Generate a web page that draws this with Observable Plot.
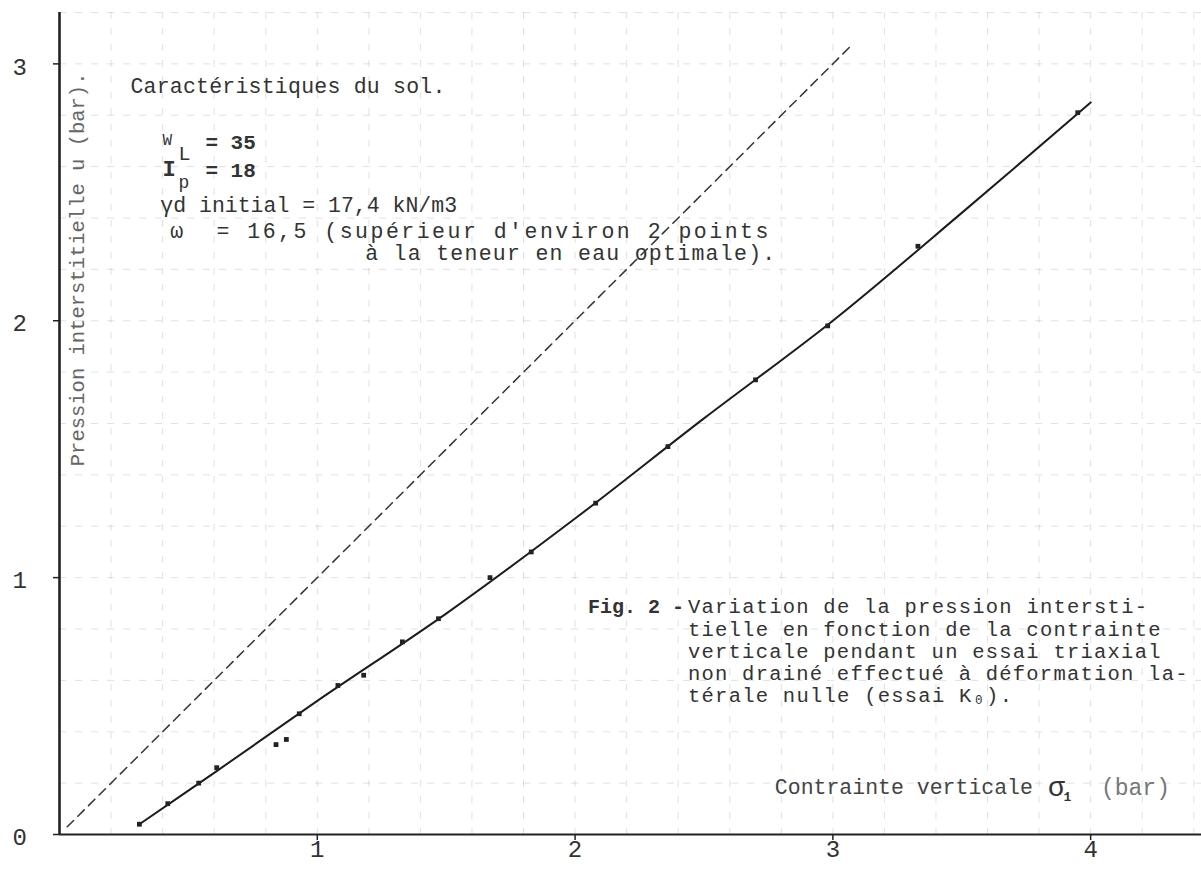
<!DOCTYPE html>
<html><head><meta charset="utf-8">
<script src="https://cdn.jsdelivr.net/npm/d3@7"></script>
<script src="https://cdn.jsdelivr.net/npm/@observablehq/plot@0.6"></script>
<style>
html,body{margin:0;padding:0;background:#fff}
svg{display:block}
</style>
</head><body><div id="chart"></div>
<script>
// Measured points: vertical stress σ1 (bar) vs pore pressure u (bar)
const sigma1 = [0.31,0.42,0.54,0.61,0.84,0.88,0.93,1.08,1.18,1.33,1.47,1.67,1.83,2.08,2.36,2.70,2.98,3.33,3.95];
const porePressure = [0.04,0.12,0.20,0.26,0.35,0.37,0.47,0.58,0.62,0.75,0.84,1.00,1.10,1.29,1.51,1.77,1.98,2.29,2.81];
// Drawn fitted curve (hand-drawn through the points)
const curveSigma = [0.31,0.60,1.00,1.50,2.00,2.50,3.00,3.50,4.00];
const curveU = [0.04,0.24,0.52,0.86,1.23,1.62,2.00,2.42,2.85];
// Dashed reference line u = σ1
const refSigma = [0.03,3.08];
const refU = [0.03,3.08];
// Ticks and graph-paper grid
const xTicks = [1,2,3,4];
const yTicks = [0,1,2,3];
const xGrid = [0.2,0.4,0.6,0.8,1.0,1.2,1.4,1.6,1.8,2.0,2.2,2.4,2.6,2.8,3.0,3.2,3.4,3.6,3.8,4.0,4.2,4.4];
const yGrid = [0.2,0.4,0.6,0.8,1.0,1.2,1.4,1.6,1.8,2.0,2.2,2.4,2.6,2.8,3.0,3.2];
// Text lines
const soilTitle = "Caractéristiques du sol.";
const gammaLine = "γd initial = 17,4 kN/m3";
const omegaLine = "ω  = 16,5 (supérieur d'environ 2 points";
const omegaLine2 = "à la teneur en eau optimale).";
const captionLead = "Fig. 2 -";
const captionLines = [
  "Variation de la pression intersti-",
  "tielle en fonction de la contrainte",
  "verticale pendant un essai triaxial",
  "non drainé effectué à déformation la-",
  "térale nulle (essai K₀)."
];
const xTitle = "Contrainte verticale";
const yTitle = "Pression interstitielle u (bar).";

const points = sigma1.map((s,i)=>({s, u: porePressure[i]}));
const curve = curveSigma.map((s,i)=>({s, u: curveU[i]}));
const ref = refSigma.map((s,i)=>({s, u: refU[i]}));

const mono = "'Liberation Mono', 'DejaVu Sans Mono', monospace";
const T = (x, y, t, o = {}) => Plot.text([{x, y, t}], Object.assign({x:"x", y:"y", text:"t", textAnchor:"start", lineAnchor:"middle", fontFamily: mono, fontSize: 21.5, fill:"#333"}, o));

const captionY = [0.886, 0.800, 0.714, 0.627, 0.541];

const chart = Plot.plot({
  width: 1201, height: 870,
  marginLeft: 59, marginRight: 0, marginTop: 12, marginBottom: 36,
  x: {domain: [0, 4.43]},
  y: {domain: [0, 3.2]},
  style: {background: "#fff"},
  marks: [
    Plot.gridX(xGrid, {stroke:"#b0b0b0", strokeOpacity: 0.38, strokeDasharray: "7 9"}),
    Plot.gridY(yGrid, {stroke:"#b0b0b0", strokeOpacity: 0.38, strokeDasharray: "7 9"}),
    // axis ticks (labels drawn separately below)
    Plot.axisX({ticks: xTicks, tickSize: 6, tickFormat: () => "", label: null, stroke: "#222", strokeWidth: 1.5}),
    Plot.axisY({ticks: yTicks, tickSize: 6, tickFormat: () => "", label: null, stroke: "#222", strokeWidth: 1.5}),
    // tick labels
    Plot.text(xTicks, {x: d => d, text: d => String(d), frameAnchor: "bottom", dy: 22, fontFamily: mono, fontSize: 24, fill: "#333"}),
    Plot.text(yTicks, {y: d => d, text: d => String(d), frameAnchor: "left", dx: -47, dy: 3, fontFamily: mono, fontSize: 24, fill: "#333"}),
    Plot.ruleY([0], {stroke: "#222", strokeWidth: 2.2}),
    Plot.ruleX([0], {stroke: "#222", strokeWidth: 2.6}),
    Plot.line(ref, {x:"s", y:"u", stroke:"#333", strokeWidth: 1.5, strokeDasharray: "9 6"}),
    Plot.line(curve, {x:"s", y:"u", curve:"catmull-rom", stroke:"#1c1c1c", strokeWidth: 2}),
    Plot.dot(points, {x:"s", y:"u", r: 2.7, symbol: "square", fill:"#222"}),

    // Soil characteristics block
    T(0.275, 2.915, soilTitle),
    T(0.400, 2.705, "W", {fontSize: 16}),
    T(0.462, 2.650, "L", {fontSize: 20}),
    T(0.566, 2.693, "= 35", {fontSize: 21, fontWeight: "bold"}),
    T(0.400, 2.590, "I", {fontSize: 22, fontWeight: "bold"}),
    T(0.462, 2.540, "p", {fontSize: 18}),
    T(0.566, 2.586, "= 18", {fontSize: 21, fontWeight: "bold"}),
    T(0.391, 2.452, gammaLine),
    T(0.430, 2.350, omegaLine),
    T(1.186, 2.262, omegaLine2),

    // Figure caption
    T(2.050, 0.886, captionLead, {fontWeight: "bold", fontSize: 20}),
    Plot.text(captionLines.map((t, i) => ({t, y: captionY[i]})), {x: 2.438, y: "y", text: "t", textAnchor: "start", lineAnchor: "middle", fontFamily: mono, fontSize: 20.5, fill: "#333"}),

    // Axis titles
    T(2.775, 0.183, xTitle, {fill:"#444"}),
    T(3.835, 0.186, "σ", {fontSize: 28, fill:"#333"}),
    T(3.895, 0.145, "1", {fontSize: 13, fill:"#333", fontWeight:"bold"}),
    T(4.04, 0.183, "(bar)", {fill:"#777", fontSize: 23}),
    Plot.text([{x: 0.07, y: 2.20, t: yTitle}], {x:"x", y:"y", text:"t", rotate: -90, textAnchor:"middle", lineAnchor:"middle", fontFamily: mono, fontSize: 20.5, fill:"#666"})
  ]
});

// stretch a few typed lines to the widths they occupy on the original sheet
const fitWidths = new Map([[soilTitle, 315], [omegaLine, 598], [omegaLine2, 410]]);
captionLines.forEach(t => fitWidths.set(t, t.length * 13.5));
d3.select(chart).selectAll("text").each(function() {
  const w = fitWidths.get(this.textContent);
  if (w) { this.setAttribute("textLength", w); this.setAttribute("lengthAdjust", "spacing"); }
});
document.getElementById("chart").appendChild(chart);
</script>
</body></html>
